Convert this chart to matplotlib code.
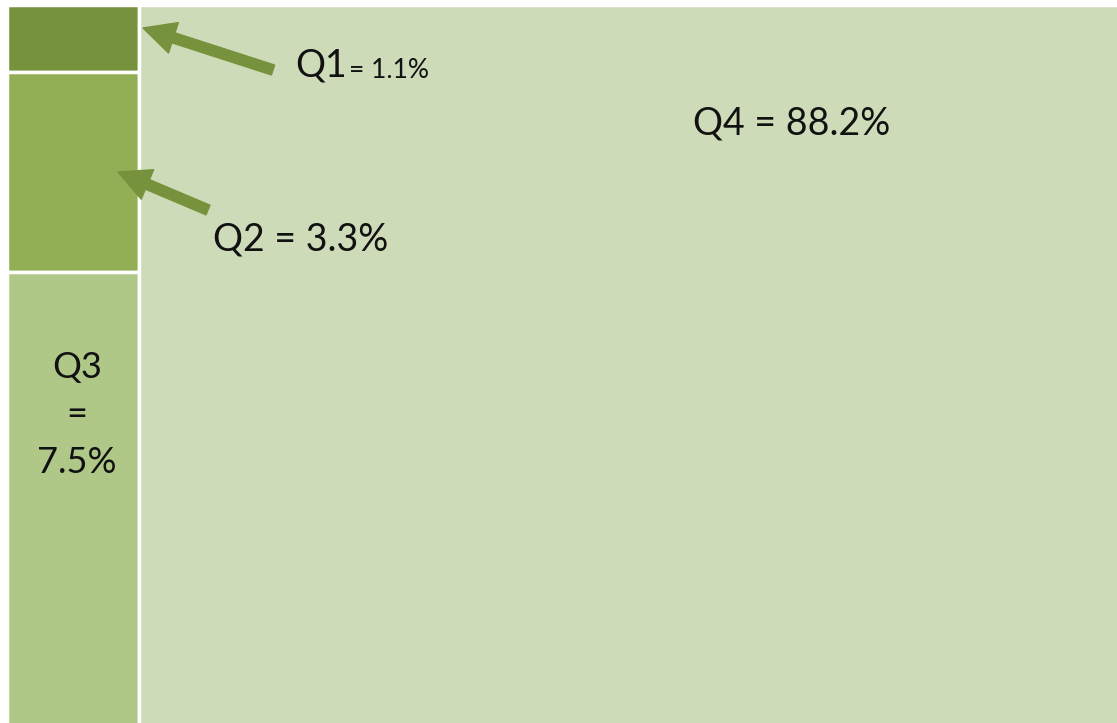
import numpy as np
import matplotlib
matplotlib.use('Agg')
import matplotlib.pyplot as plt
from matplotlib.patches import Rectangle, FancyArrowPatch

# shares of the four quartiles (percent)
labels = ['Q1', 'Q2', 'Q3', 'Q4']
shares = [1.1, 3.3, 7.5, 88.2]
colors = ['#77923c', '#92af55', '#afc787', '#cedbb8']

W, H = 1117, 723
fig = plt.figure(figsize=(W / 100, H / 100), dpi=100)
fig.patch.set_facecolor('white')
# axes run a little past the right/bottom edge so the outer white edges are hidden
ax = fig.add_axes([7 / W, -3 / H, 1 - 4 / W, 1 - 2 / H])
ax.set_xlim(0, 1)
ax.set_ylim(0, 1)
ax.axis('off')

total = sum(shares)
left_sum = sum(shares[:3])
col_w = left_sum / total

# left column: Q1 on top, Q2, then Q3
top = 1.0
for i in range(3):
    h = shares[i] / left_sum
    ax.add_patch(Rectangle((0, top - h), col_w, h, facecolor=colors[i],
                           edgecolor='white', linewidth=2.5))
    top -= h
# right block: Q4
ax.add_patch(Rectangle((col_w, 0), 1 - col_w, 1, facecolor=colors[3],
                       edgecolor='white', linewidth=2.5))


def px(x, y):
    # top-left pixel -> figure fraction
    return (x / W, 1 - y / H)


font = ['Lato', 'DejaVu Sans']
tc = '#111111'

fig.text(*px(792, 123), 'Q4 = 88.2%', fontsize=27, family=font, color=tc,
         ha='center', va='center')
fig.text(*px(301, 240), 'Q2 = 3.3%', fontsize=27, family=font, color=tc,
         ha='center', va='center')
fig.text(*px(295, 66), 'Q1', fontsize=27, family=font, color=tc,
         ha='left', va='center')
fig.text(*px(349, 70), '= 1.1%', fontsize=19, family=font, color=tc,
         ha='left', va='center')
fig.text(*px(77, 415), 'Q3\n=\n7.5%', fontsize=26, family=font, color=tc,
         ha='center', va='center', linespacing=1.55)

arrow_style = 'simple,head_width=2.3,head_length=2.3,tail_width=0.75'
for tip, tail in [((143, 28), (273, 70)), ((118, 172), (208, 210))]:
    fig.patches.append(FancyArrowPatch(
        px(*tail), px(*tip), transform=fig.transFigure,
        arrowstyle=arrow_style, mutation_scale=10, color='#77923c',
        shrinkA=0, shrinkB=0))

plt.savefig('out.png', dpi=100)
